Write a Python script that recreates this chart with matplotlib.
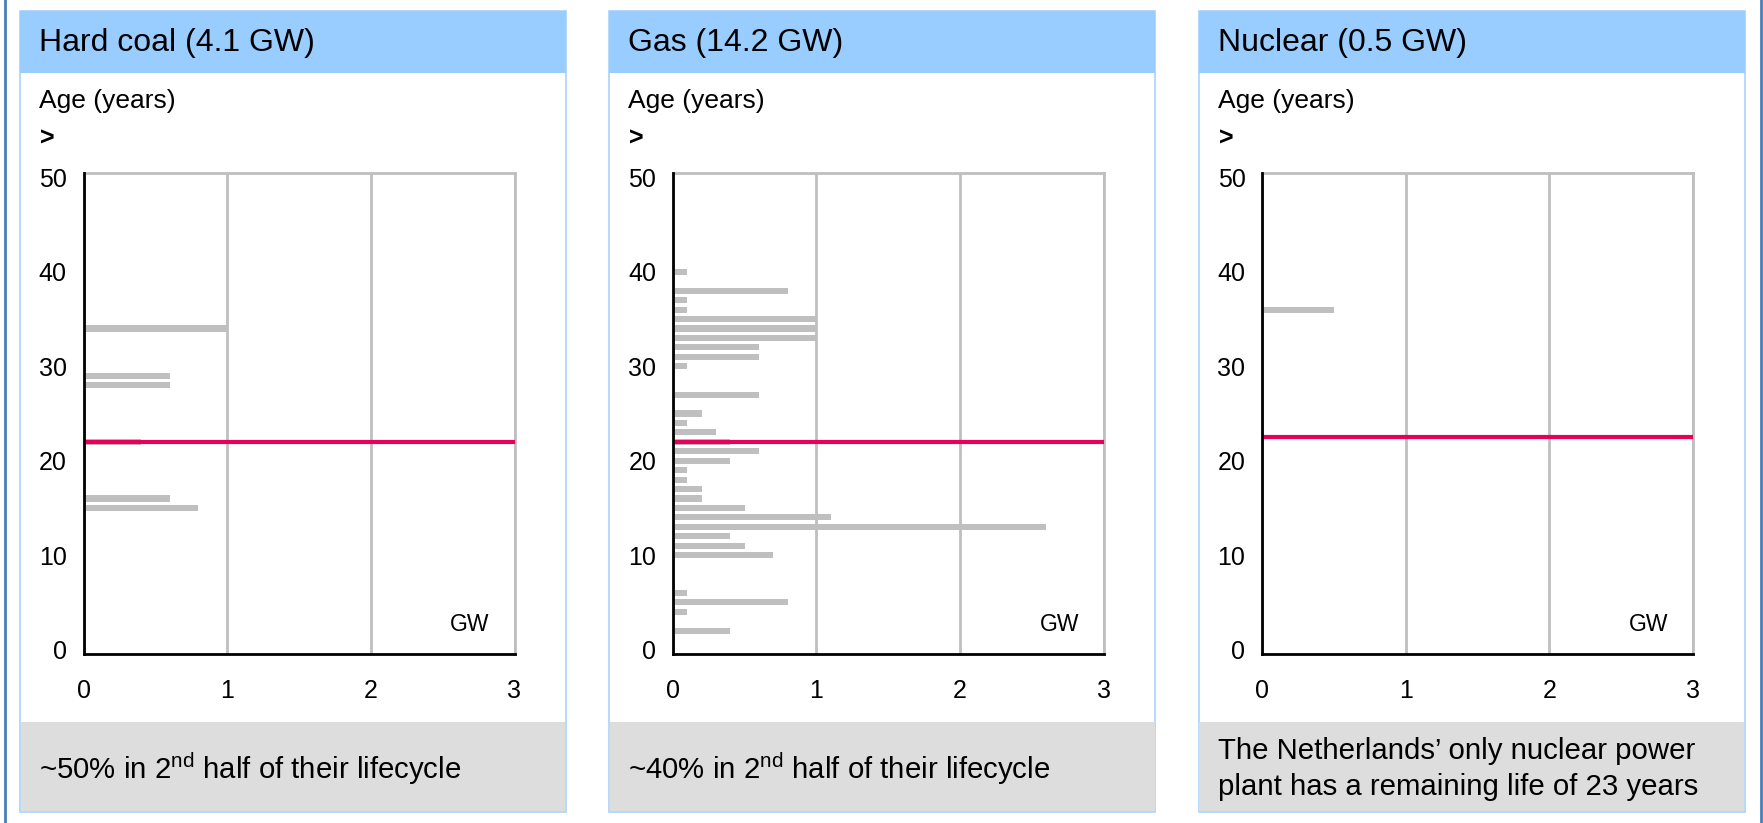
import matplotlib
matplotlib.use("Agg")
import matplotlib.pyplot as plt
from matplotlib.patches import Rectangle
from matplotlib.lines import Line2D

plt.rcParams['font.family'] = ['Liberation Sans', 'DejaVu Sans']
plt.rcParams['mathtext.fontset'] = 'custom'
plt.rcParams['mathtext.rm'] = 'Liberation Sans'
plt.rcParams['mathtext.it'] = 'Liberation Sans:italic'

# Installed capacity by plant age (years) and size (GW)
coal_age = [34, 29, 28, 22, 16, 15]
coal_gw = [1.0, 0.6, 0.6, 0.4, 0.6, 0.8]

gas_age = [40, 38, 37, 36, 35, 34, 33, 32, 31, 30, 27, 25, 24, 23, 22,
           21, 20, 19, 18, 17, 16, 15, 14, 13, 12, 11, 10, 6, 5, 4, 2]
gas_gw = [0.1, 0.8, 0.1, 0.1, 1.0, 1.0, 1.0, 0.6, 0.6, 0.1, 0.6, 0.2, 0.1, 0.3, 0.4,
          0.6, 0.4, 0.1, 0.1, 0.2, 0.2, 0.5, 1.1, 2.6, 0.4, 0.5, 0.7, 0.1, 0.8, 0.1, 0.4]

nuclear_age = [36]
nuclear_gw = [0.5]

# Half of the technical lifetime per technology (years)
half_life = [22, 22, 22.5]

titles = ["Hard coal (4.1 GW)", "Gas (14.2 GW)", "Nuclear (0.5 GW)"]
footers = [
    "~50% in 2$^{\\mathrm{nd}}$ half of their lifecycle",
    "~40% in 2$^{\\mathrm{nd}}$ half of their lifecycle",
    "The Netherlands\u2019 only nuclear power\nplant has a remaining life of 23 years",
]
x_ticks = [0, 1, 2, 3]
y_ticks = [0, 10, 20, 30, 40, 50]

ages = [coal_age, gas_age, nuclear_age]
values = [coal_gw, gas_gw, nuclear_gw]

W, H = 1763, 823
fig = plt.figure(figsize=(W / 100, H / 100), dpi=100)
fig.patch.set_facecolor("white")

HEADER_BLUE = "#99CCFF"
BORDER_BLUE = "#A9D3FB"
FOOTER_GREY = "#DDDDDD"
BAR_GREY = "#BFBFBF"
GRID_GREY = "#BFBFBF"
LINE_RED = "#E5005B"
FRAME_BLUE = "#4A7EBB"


def fx(x):
    return x / W


def fy(y):
    return 1 - y / H


def rect(x0, y0, x1, y1, **kw):
    fig.patches.append(Rectangle((fx(x0), fy(y1)), fx(x1) - fx(x0), fy(y0) - fy(y1),
                                 transform=fig.transFigure, figure=fig, **kw))


# outer frame edges
for xv in (4.5, 1760.5):
    fig.lines.append(Line2D([fx(xv), fx(xv)], [0, 1], transform=fig.transFigure,
                            color=FRAME_BLUE, lw=2, zorder=-3))

panel_left = [20, 609.3, 1198.6]
panel_w = 546
for i in range(3):
    pl = panel_left[i]
    pr = pl + panel_w
    # panel body with thin border, header band and footer band
    rect(pl, 11, pr, 812, facecolor="white", edgecolor=BORDER_BLUE, lw=1.2, zorder=-3)
    rect(pl, 11, pr, 73, facecolor=HEADER_BLUE, edgecolor="none", zorder=-2)
    rect(pl + 0.6, 722, pr - 0.6, 811.4, facecolor=FOOTER_GREY, edgecolor="none", zorder=-2)

    fig.text(fx(pl + 19), fy(43), titles[i], fontsize=23, va="center", ha="left")
    fig.text(fx(pl + 19), fy(101), "Age (years)", fontsize=19, va="center", ha="left")
    fig.text(fx(pl + 20), fy(139), ">", fontsize=18, fontweight="bold",
             va="center", ha="left")
    fig.text(fx(pl + 19), fy(769), footers[i], fontsize=21.2, va="center", ha="left",
             linespacing=1.34)

    ax_l = pl + 63.5
    ax_w = 431
    ax = fig.add_axes([fx(ax_l), fy(654.3), ax_w / W, (654.3 - 172.7) / H])
    ax.set_facecolor("white")
    ax.barh(ages[i], values[i], height=0.64, color=BAR_GREY, zorder=2)
    ax.axhline(half_life[i], color=LINE_RED, lw=3, zorder=3)

    ax.set_xlim(0, 3)
    ax.set_ylim(-0.5, 50.5)
    ax.set_xticks(x_ticks)
    ax.set_yticks(y_ticks)
    ax.set_xticklabels([str(t) for t in x_ticks])
    ax.set_yticklabels([str(t) for t in y_ticks])
    ax.tick_params(axis="both", length=0, labelsize=18)
    ax.tick_params(axis="x", pad=18)
    ax.tick_params(axis="y", pad=12)
    ax.grid(axis="x", color=GRID_GREY, lw=2, zorder=1)
    ax.set_axisbelow(True)
    for side in ("left", "bottom"):
        ax.spines[side].set_color("black")
        ax.spines[side].set_linewidth(2)
        ax.spines[side].set_zorder(4)
    for side in ("top", "right"):
        ax.spines[side].set_color(GRID_GREY)
        ax.spines[side].set_linewidth(2)
    ax.text(0.897, 0.061, "GW", transform=ax.transAxes, fontsize=16.5,
            ha="center", va="center")

fig.savefig("out.png", dpi=100)
